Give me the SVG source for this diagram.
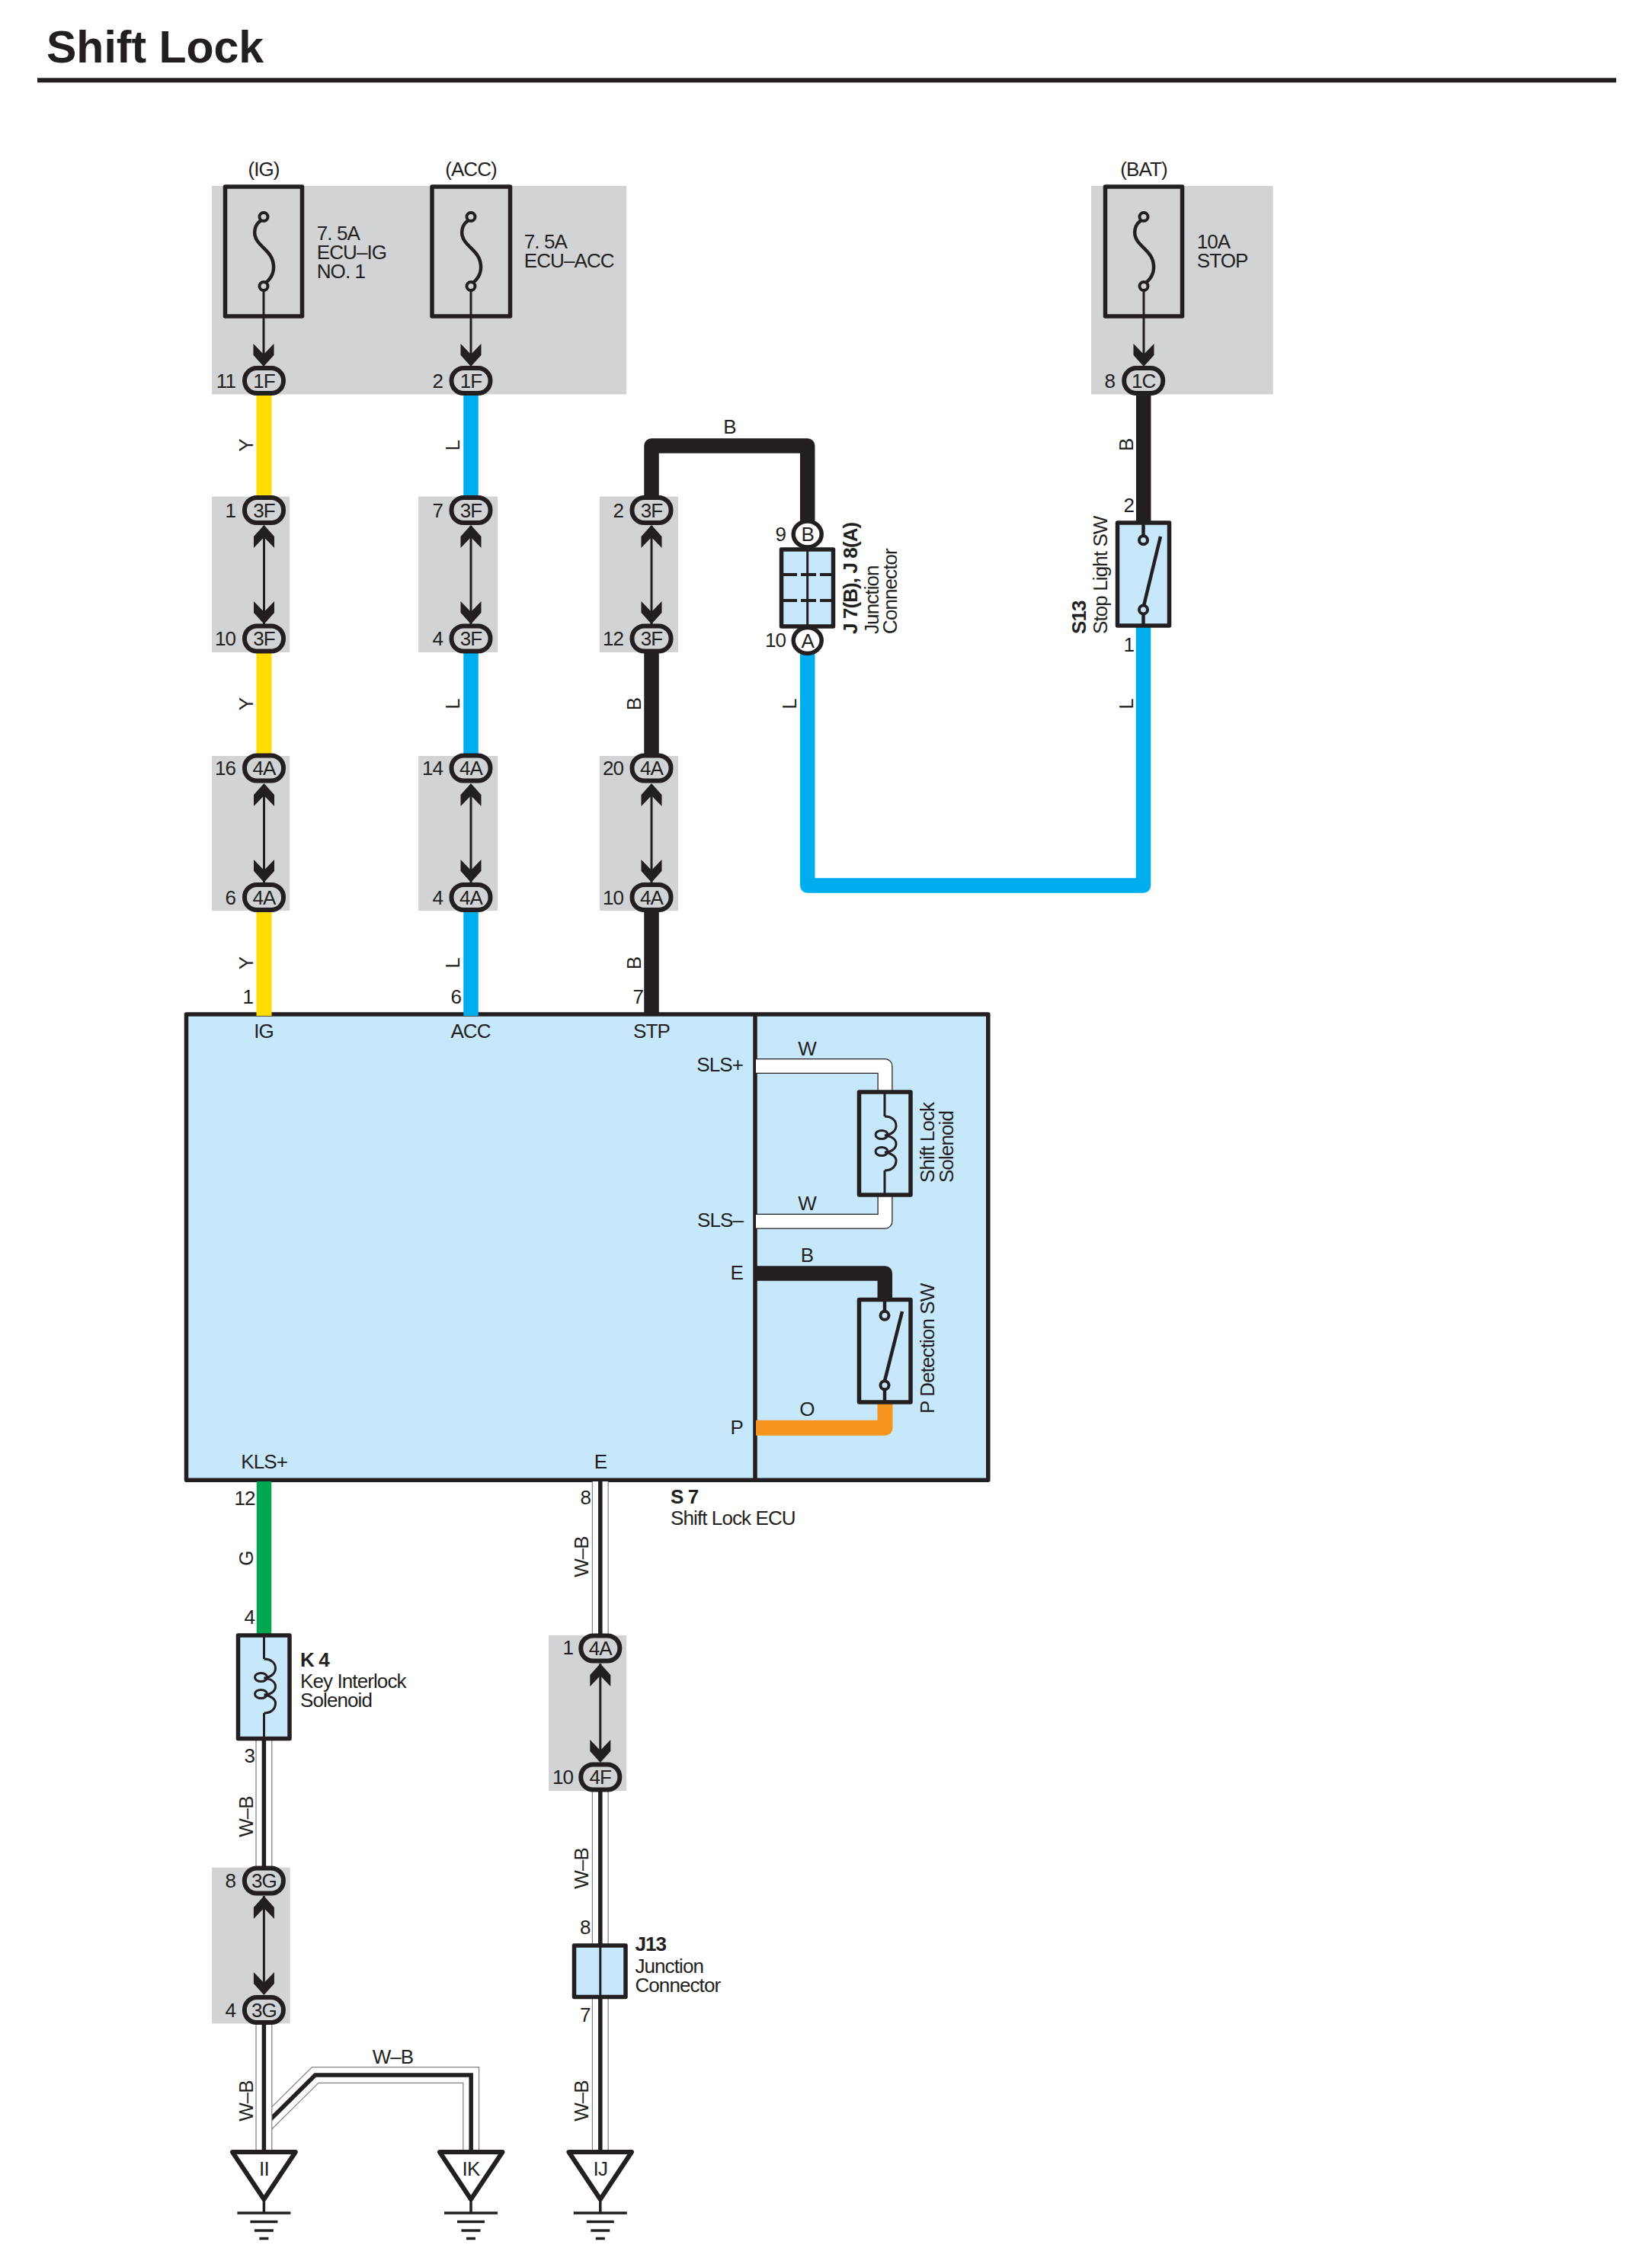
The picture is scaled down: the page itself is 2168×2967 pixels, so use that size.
<svg xmlns="http://www.w3.org/2000/svg" xmlns:xlink="http://www.w3.org/1999/xlink" width="2168" height="2967" viewBox="0 0 2168 2967">
<style>
text{font-family:"Liberation Sans",Arial,sans-serif;font-size:26px;letter-spacing:-0.9px;fill:#231F20}
.b{font-weight:bold}
.e{text-anchor:end}
.m{text-anchor:middle}
.panel{fill:#D1D3D4}
.wire{fill:none;stroke-linejoin:round}
.y{stroke:#FFDD00;stroke-width:20}
.l{stroke:#00AEEF;stroke-width:19.5}
.k{stroke:#231F20;stroke-width:19.5}
.g{stroke:#00A651;stroke-width:19.5}
.o{stroke:#F7941D;stroke-width:20}
.w1{stroke:#231F20;stroke-width:20}
.w2{stroke:#FFFFFF;stroke-width:17.5}
.wb1{stroke:#808285;stroke-width:22}
.wb2{stroke:#FFFFFF;stroke-width:19.5}
.wb3{stroke:#231F20;stroke-width:5.5}
.thin{fill:none;stroke:#231F20;stroke-width:3}
.box{fill:#C7E8FB;stroke:#231F20;stroke-width:5.5;stroke-linejoin:round}
.fuse{fill:none;stroke:#231F20;stroke-width:5.5;stroke-linejoin:round}
.sym{fill:none;stroke:#231F20;stroke-width:4.5}
.ring{fill:#C7E8FB;stroke:#231F20;stroke-width:4}
.ringg{fill:#D1D3D4;stroke:#231F20;stroke-width:4}
.pin{fill:#FFFFFF;stroke:#231F20;stroke-width:5.5}
.tri{fill:#FFFFFF;stroke:#231F20;stroke-width:6;stroke-linejoin:round}
.gnd{stroke:#231F20;stroke-width:3.5;fill:none}
</style>
<defs>
<rect id="ov" x="-25.500" y="-16.500" width="51" height="33" rx="16" fill="#D1D3D4" stroke="#231F20" stroke-width="6"/>
<path id="up" d="M0 0L13.500 15V30L0 16L-13.500 30V15Z" fill="#231F20"/>
<path id="dn" d="M0 0L-13.500 -15V-30L0 -16L13.500 -30V-15Z" fill="#231F20"/>
<g id="fuseSym">
<path class="sym" d="M-2 4C-12 9 -15 22 -8 32C-1 42 12 48 13 64C14 77 6 85 -2 90"/>
<circle class="ringg" cx="0" cy="0" r="5.500"/>
<circle class="ringg" cx="0" cy="91" r="5.500"/>
</g>
<g id="ground">
<path class="gnd" d="M0 64V80M-35 80H35M-18 91.500H18M-12.500 103H12.500M-6 113.500H6"/>
</g>
<g id="coil" class="thin">
<path d="M0 0C10 0 15 6 15 12C15 19 9 24 0 25C9 26 15 30 15 36C15 42 9 47 0 47C9 48 15 53 15 58C15 65 10 71 0 71"/>
<ellipse cx="-4" cy="24" rx="8" ry="5.500"/>
<ellipse cx="-4" cy="46" rx="8" ry="5.500"/>
</g>
</defs>

<rect id="page-bg" width="2168" height="2967" fill="#FFFFFF"/>
<g id="title">
<text class="b" x="61" y="81.500" style="font-size:59px;letter-spacing:0">Shift Lock</text>
<rect x="49" y="102.300" width="2072" height="6" fill="#231F20"/>
</g>

<g id="panels">
<rect class="panel" x="278" y="244" width="544" height="273.500"/>
<rect class="panel" x="1432" y="244" width="238.700" height="273.500"/>
<rect class="panel" x="278" y="651.600" width="102" height="204.400"/>
<rect class="panel" x="549" y="651.600" width="104" height="204.400"/>
<rect class="panel" x="787" y="651.600" width="103" height="204.400"/>
<rect class="panel" x="278" y="992" width="102" height="203"/>
<rect class="panel" x="549" y="992" width="104" height="203"/>
<rect class="panel" x="787" y="992" width="103" height="203"/>
<rect class="panel" x="720" y="2146" width="102" height="204"/>
<rect class="panel" x="278" y="2450.700" width="102.700" height="204.700"/>
</g>

<g id="ecu-body">
<rect class="box" x="244.500" y="1331" width="1052.300" height="611.300"/>
<path d="M991 1331V1942.300" stroke="#231F20" stroke-width="5.500" fill="none"/>
</g>

<g id="connectors">
<path class="wire y" d="M346.500 515V655M346.500 855V1010M346.500 1175V1333"/>
<path class="wire l" d="M618 515V655M618 855V1010M618 1175V1333"/>
<path class="wire k" d="M855 1175V1333M855 855V1010M855 655V585H1059.700V690"/>
<path class="wire k" d="M1500.700 515V690"/>
<path class="wire l" d="M1059.700 855V1162H1500.500V820"/>
<path class="wire w1" d="M992 1399H1161.500V1435"/>
<path class="wire w2" d="M992 1399H1161.500V1435"/>
<path class="wire w1" d="M992 1602.700H1161.500V1567"/>
<path class="wire w2" d="M992 1602.700H1161.500V1567"/>
<path class="wire k" d="M992 1671H1161.300V1705"/>
<path class="wire o" d="M992 1873.700H1161.500V1840"/>
<path class="wire g" d="M346.500 1944V2145"/>
<g fill="none" stroke-linejoin="miter">
<path class="wb1" d="M346 2790L413.700 2723H618.200V2824"/>
<path class="wb2" d="M346 2790L413.700 2723H618.200V2824"/>
<path class="wb3" d="M346 2790L413.700 2723H618.200V2824"/>
<path class="wb1" d="M346.400 2282V2452M346.400 2655V2824"/>
<path class="wb2" d="M346.400 2282V2452M346.400 2655V2824"/>
<path class="wb3" d="M346.400 2282V2452M346.400 2655V2824"/>
<path class="wb1" d="M787.800 1944V2146M787.800 2350V2824"/>
<path class="wb2" d="M787.800 1944V2146M787.800 2350V2824"/>
<path class="wb3" d="M787.800 1944V2146M787.800 2350V2824"/>
</g>
<g stroke="#231F20" stroke-width="3" fill="none">
<path d="M346 376V470M618 376V470M1501 376V470"/>
<path d="M346.500 690V820M618 690V820M855 690V820"/>
<path d="M346.500 1030V1160M618 1030V1160M855 1030V1160"/>
<path d="M787.800 2183V2300M346.400 2488V2608"/>
</g>
<g id="arrowheads">
<use xlink:href="#dn" href="#dn" x="346" y="481"/><use xlink:href="#dn" href="#dn" x="618" y="481"/><use xlink:href="#dn" href="#dn" x="1501" y="481"/>
<use xlink:href="#up" href="#up" x="346.500" y="689"/><use xlink:href="#dn" href="#dn" x="346.500" y="819"/>
<use xlink:href="#up" href="#up" x="618" y="689"/><use xlink:href="#dn" href="#dn" x="618" y="819"/>
<use xlink:href="#up" href="#up" x="855" y="689"/><use xlink:href="#dn" href="#dn" x="855" y="819"/>
<use xlink:href="#up" href="#up" x="346.500" y="1028"/><use xlink:href="#dn" href="#dn" x="346.500" y="1158"/>
<use xlink:href="#up" href="#up" x="618" y="1028"/><use xlink:href="#dn" href="#dn" x="618" y="1158"/>
<use xlink:href="#up" href="#up" x="855" y="1028"/><use xlink:href="#dn" href="#dn" x="855" y="1158"/>
<use xlink:href="#up" href="#up" x="787.800" y="2183"/><use xlink:href="#dn" href="#dn" x="787.800" y="2313"/>
<use xlink:href="#up" href="#up" x="346.400" y="2488"/><use xlink:href="#dn" href="#dn" x="346.400" y="2618"/>
</g>
</g>

<g id="wire-labels">
<text class="m" transform="translate(331.500 584.600) rotate(-90)">Y</text>
<text class="m" transform="translate(603 584.600) rotate(-90)">L</text>
<text class="m" transform="translate(1486.700 583.700) rotate(-90)">B</text>
<text class="m" x="957.600" y="569">B</text>
<text class="m" transform="translate(331.500 924) rotate(-90)">Y</text>
<text class="m" transform="translate(603 924) rotate(-90)">L</text>
<text class="m" transform="translate(840.800 924) rotate(-90)">B</text>
<text class="m" transform="translate(1045 924) rotate(-90)">L</text>
<text class="m" transform="translate(1486.700 924) rotate(-90)">L</text>
<text class="m" transform="translate(331.500 1264) rotate(-90)">Y</text>
<text class="m" transform="translate(603 1264) rotate(-90)">L</text>
<text class="m" transform="translate(840.800 1264) rotate(-90)">B</text>
<text class="m" x="1059" y="1384.700">W</text>
<text class="m" x="1059" y="1588">W</text>
<text class="m" x="1059" y="1655.700">B</text>
<text class="m" x="1059" y="1858">O</text>
<text class="m" transform="translate(331.500 2045) rotate(-90)">G</text>
<text class="m" transform="translate(772 2043) rotate(-90)">W–B</text>
<text class="m" transform="translate(331.500 2384) rotate(-90)">W–B</text>
<text class="m" transform="translate(772 2451.800) rotate(-90)">W–B</text>
<text class="m" transform="translate(331.500 2757) rotate(-90)">W–B</text>
<text class="m" transform="translate(772 2757) rotate(-90)">W–B</text>
<text class="m" x="515.500" y="2708">W–B</text>
</g>

<g id="fuse-ig">
<rect class="fuse" x="295.500" y="245" width="101" height="170"/>
<use xlink:href="#fuseSym" href="#fuseSym" x="346" y="284.500"/>
<text class="m" x="346" y="231">(IG)</text>
<text x="415.700" y="315">7. 5A</text>
<text x="415.700" y="339.700">ECU–IG</text>
<text x="415.700" y="364.500">NO. 1</text>
</g>
<g id="fuse-acc">
<rect class="fuse" x="567" y="245" width="102.500" height="170"/>
<use xlink:href="#fuseSym" href="#fuseSym" x="618" y="284.500"/>
<text class="m" x="618" y="231">(ACC)</text>
<text x="687.800" y="326">7. 5A</text>
<text x="687.800" y="351">ECU–ACC</text>
</g>
<g id="fuse-bat">
<rect class="fuse" x="1450.500" y="245" width="101" height="170"/>
<use xlink:href="#fuseSym" href="#fuseSym" x="1501" y="284.500"/>
<text class="m" x="1501" y="231">(BAT)</text>
<text x="1570.700" y="326">10A</text>
<text x="1570.700" y="350.700">STOP</text>
</g>

<g id="conn-1F-11"><use xlink:href="#ov" href="#ov" x="346.500" y="499.600"/><text class="m" x="346.500" y="508.500">1F</text><text class="e" x="309" y="508.500">11</text></g>
<g id="conn-1F-2"><use xlink:href="#ov" href="#ov" x="618" y="499.600"/><text class="m" x="618" y="508.500">1F</text><text class="e" x="581" y="508.500">2</text></g>
<g id="conn-1C-8"><use xlink:href="#ov" href="#ov" x="1500.700" y="499.600"/><text class="m" x="1500.700" y="508.500">1C</text><text class="e" x="1463" y="508.500">8</text></g>

<g id="conn-3F-1"><use xlink:href="#ov" href="#ov" x="346.500" y="669.500"/><text class="m" x="346.500" y="678.500">3F</text><text class="e" x="309" y="678.500">1</text></g>
<g id="conn-3F-10"><use xlink:href="#ov" href="#ov" x="346.500" y="838"/><text class="m" x="346.500" y="847">3F</text><text class="e" x="309" y="847">10</text></g>
<g id="conn-4A-16"><use xlink:href="#ov" href="#ov" x="346.500" y="1008"/><text class="m" x="346.500" y="1017">4A</text><text class="e" x="309" y="1017">16</text></g>
<g id="conn-4A-6"><use xlink:href="#ov" href="#ov" x="346.500" y="1177.500"/><text class="m" x="346.500" y="1186.500">4A</text><text class="e" x="309" y="1186.500">6</text></g>

<g id="conn-3F-7"><use xlink:href="#ov" href="#ov" x="618" y="669.500"/><text class="m" x="618" y="678.500">3F</text><text class="e" x="581" y="678.500">7</text></g>
<g id="conn-3F-4"><use xlink:href="#ov" href="#ov" x="618" y="838"/><text class="m" x="618" y="847">3F</text><text class="e" x="581" y="847">4</text></g>
<g id="conn-4A-14"><use xlink:href="#ov" href="#ov" x="618" y="1008"/><text class="m" x="618" y="1017">4A</text><text class="e" x="581" y="1017">14</text></g>
<g id="conn-4A-4"><use xlink:href="#ov" href="#ov" x="618" y="1177.500"/><text class="m" x="618" y="1186.500">4A</text><text class="e" x="581" y="1186.500">4</text></g>

<g id="conn-3F-2"><use xlink:href="#ov" href="#ov" x="855" y="669.500"/><text class="m" x="855" y="678.500">3F</text><text class="e" x="818" y="678.500">2</text></g>
<g id="conn-3F-12"><use xlink:href="#ov" href="#ov" x="855" y="838"/><text class="m" x="855" y="847">3F</text><text class="e" x="818" y="847">12</text></g>
<g id="conn-4A-20"><use xlink:href="#ov" href="#ov" x="855" y="1008"/><text class="m" x="855" y="1017">4A</text><text class="e" x="818" y="1017">20</text></g>
<g id="conn-4A-10"><use xlink:href="#ov" href="#ov" x="855" y="1177.500"/><text class="m" x="855" y="1186.500">4A</text><text class="e" x="818" y="1186.500">10</text></g>

<g id="junction-J7-J8">
<rect class="box" x="1025.500" y="721" width="68" height="101"/>
<path d="M1059.700 721V822" stroke="#231F20" stroke-width="3" fill="none"/>
<path d="M1026 754H1093M1026 788H1093" stroke="#231F20" stroke-width="4" stroke-dasharray="20 5" fill="none"/>
<ellipse class="pin" cx="1059.700" cy="701" rx="18.500" ry="17"/>
<ellipse class="pin" cx="1059.700" cy="840.500" rx="18.500" ry="17"/>
<text class="m" x="1059.700" y="710">B</text>
<text class="m" x="1059.700" y="849.500">A</text>
<text class="e" x="1031" y="709.500">9</text>
<text class="e" x="1031" y="848.500">10</text>
<text class="b" transform="translate(1125 832) rotate(-90)">J 7(B), J 8(A)</text>
<text transform="translate(1153 832) rotate(-90)">Junction</text>
<text transform="translate(1176.500 832) rotate(-90)">Connector</text>
</g>

<g id="switch-S13">
<rect class="box" x="1466.500" y="686" width="68" height="135"/>
<path class="sym" d="M1500.500 686V702M1500.500 806V821M1501 795L1523 704" stroke-width="3.500"/>
<circle class="ring" cx="1500.500" cy="708.700" r="5.500"/>
<circle class="ring" cx="1500.500" cy="800" r="5.500"/>
<text class="e" x="1488" y="671.700">2</text>
<text class="e" x="1488" y="855">1</text>
<text class="b" transform="translate(1424.500 832) rotate(-90)">S13</text>
<text transform="translate(1453 832) rotate(-90)">Stop Light SW</text>
</g>

<g id="ecu-S7">
<text class="m" x="346" y="1361.700">IG</text>
<text class="m" x="617.500" y="1361.700">ACC</text>
<text class="m" x="855" y="1361.700">STP</text>
<text class="e" x="332" y="1316.700">1</text>
<text class="e" x="605" y="1316.700">6</text>
<text class="e" x="844" y="1316.700">7</text>
<text class="e" x="975" y="1405.700">SLS+</text>
<text class="e" x="975" y="1610">SLS–</text>
<text class="e" x="975" y="1678.500">E</text>
<text class="e" x="975" y="1881.600">P</text>
<text class="m" x="346.700" y="1926.700">KLS+</text>
<text class="m" x="788" y="1926.700">E</text>
<text class="e" x="334.500" y="1975">12</text>
<text class="e" x="775" y="1974">8</text>
<text class="b" x="880" y="1972.700">S 7</text>
<text x="880" y="2000.800">Shift Lock ECU</text>
</g>

<g id="solenoid-shift-lock">
<rect class="box" x="1127.500" y="1433" width="67.500" height="135"/>
<path class="thin" d="M1161 1433V1465M1161 1536V1568"/>
<use xlink:href="#coil" href="#coil" x="1161" y="1465"/>
<text transform="translate(1226 1552) rotate(-90)">Shift Lock</text>
<text transform="translate(1250.700 1552) rotate(-90)">Solenoid</text>
</g>

<g id="switch-P-detection">
<rect class="box" x="1127.500" y="1705.500" width="67.500" height="134.500"/>
<path class="sym" d="M1161 1705.500V1720M1161 1824V1840M1161 1812L1184 1721" stroke-width="3.500"/>
<circle class="ring" cx="1161" cy="1726.200" r="5.500"/>
<circle class="ring" cx="1161" cy="1817.800" r="5.500"/>
<text transform="translate(1226 1855) rotate(-90)">P Detection SW</text>
</g>

<g id="solenoid-K4">
<rect class="box" x="312.500" y="2146" width="67.500" height="135.500"/>
<path class="thin" d="M346.500 2146V2177M346.500 2248V2281.500"/>
<use xlink:href="#coil" href="#coil" x="346.500" y="2177"/>
<text class="e" x="334" y="2130.700">4</text>
<text class="e" x="334" y="2313">3</text>
<text class="b" x="394" y="2187.300">K 4</text>
<text x="394" y="2215">Key Interlock</text>
<text x="394" y="2240">Solenoid</text>
</g>

<g id="conn-4A-1"><use xlink:href="#ov" href="#ov" x="787.800" y="2163"/><text class="m" x="787.800" y="2172">4A</text><text class="e" x="752" y="2171">1</text></g>
<g id="conn-4F-10"><use xlink:href="#ov" href="#ov" x="787.800" y="2332"/><text class="m" x="787.800" y="2341">4F</text><text class="e" x="752" y="2341">10</text></g>
<g id="conn-3G-8"><use xlink:href="#ov" href="#ov" x="346.400" y="2468"/><text class="m" x="346.400" y="2477">3G</text><text class="e" x="309" y="2477">8</text></g>
<g id="conn-3G-4"><use xlink:href="#ov" href="#ov" x="346.400" y="2637.600"/><text class="m" x="346.400" y="2646.500">3G</text><text class="e" x="309" y="2646.500">4</text></g>

<g id="junction-J13">
<rect class="box" x="753.500" y="2553" width="67.500" height="67.500"/>
<path d="M787.800 2553V2620.500" stroke="#231F20" stroke-width="3" fill="none"/>
<text class="e" x="774.500" y="2537.500">8</text>
<text class="e" x="774.500" y="2653">7</text>
<text class="b" x="833.400" y="2559.600">J13</text>
<text x="833.400" y="2588.600">Junction</text>
<text x="833.400" y="2613.600">Connector</text>
</g>

<g id="ground-II">
<path class="tri" d="M305 2824H387.800L346.400 2886Z"/>
<use xlink:href="#ground" href="#ground" x="346.400" y="2824"/>
<text class="m" x="346.400" y="2855">II</text>
</g>
<g id="ground-IK">
<path class="tri" d="M577 2824H659.500L618 2886Z"/>
<use xlink:href="#ground" href="#ground" x="618" y="2824"/>
<text class="m" x="618" y="2855">IK</text>
</g>
<g id="ground-IJ">
<path class="tri" d="M746.500 2824H829L787.800 2886Z"/>
<use xlink:href="#ground" href="#ground" x="787.800" y="2824"/>
<text class="m" x="787.800" y="2855">IJ</text>
</g>
</svg>
